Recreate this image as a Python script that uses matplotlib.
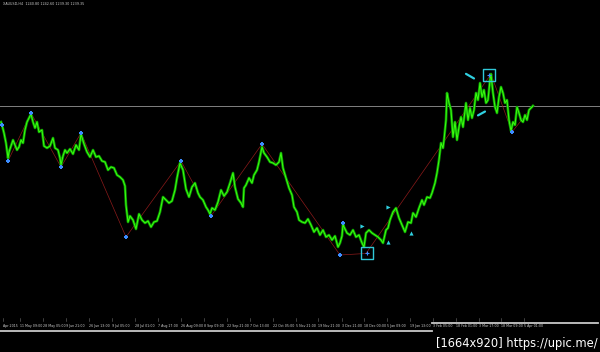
import matplotlib
matplotlib.use("Agg")
import matplotlib.pyplot as plt

# XAUUSD H4, one point every few bars (time index = chart column)
t = [1, 2, 4, 6, 8, 9, 11, 13, 15, 17, 19, 21, 23, 25, 27, 29, 31, 33, 35, 37,
     39, 42, 44, 47, 50, 53, 55, 58, 60, 61, 63, 65, 67, 70, 73, 76, 79, 81, 84, 87,
     90, 93, 96, 99, 102, 105, 108, 111, 114, 117, 120, 123, 125, 126, 128, 130, 133, 136, 139, 142,
     145, 148, 151, 154, 157, 160, 163, 166, 169, 172, 175, 177, 180, 183, 186, 189, 192, 195, 198, 200,
     203, 206, 208, 210, 212, 215, 218, 221, 224, 227, 230, 233, 235, 238, 241, 243, 244, 246, 249, 252,
     254, 257, 259, 262, 264, 267, 270, 273, 276, 279, 281, 283, 286, 289, 292, 294, 297, 299, 302, 305,
     308, 311, 314, 317, 320, 323, 326, 329, 332, 335, 338, 340, 342, 343, 344, 347, 350, 353, 356, 359,
     362, 364, 366, 369, 372, 375, 378, 381, 383, 386, 388, 390, 393, 396, 399, 402, 405, 408, 411, 413,
     416, 419, 422, 424, 427, 430, 432, 435, 437, 439, 441, 443, 444, 446, 447, 449, 451, 453, 455, 457,
     459, 461, 463, 466, 468, 470, 472, 474, 476, 478, 480, 482, 484, 486, 488, 490, 491, 493, 495, 497,
     499, 501, 503, 505, 507, 509, 511, 513, 515, 517, 519, 521, 523, 525, 527, 529, 531, 533]
price = [1218.4, 1214.5, 1204.1, 1191.1, 1171.6, 1179.4, 1187.2, 1195.0, 1188.5, 1182.0,
         1185.9, 1195.0, 1191.1, 1208.0, 1218.4, 1223.6, 1228.8, 1218.4, 1210.6, 1218.4,
         1205.4, 1208.0, 1187.2, 1184.6, 1187.2, 1197.6, 1184.6, 1182.0, 1171.6, 1162.5,
         1174.2, 1182.0, 1178.1, 1183.3, 1176.8, 1188.5, 1182.0, 1202.8, 1189.8, 1179.4,
         1172.9, 1182.0, 1172.9, 1174.2, 1167.7, 1166.4, 1156.0, 1159.9, 1158.6, 1149.5,
         1146.9, 1143.0, 1135.2, 1110.5, 1088.4, 1096.2, 1091.0, 1079.3, 1098.8, 1091.0,
         1087.1, 1089.7, 1081.9, 1088.4, 1089.7, 1101.4, 1120.9, 1117.0, 1113.1, 1115.7,
         1130.0, 1145.6, 1165.1, 1156.0, 1131.3, 1120.9, 1133.9, 1139.1, 1126.1, 1120.9,
         1117.0, 1107.9, 1104.0, 1098.8, 1106.6, 1104.0, 1114.4, 1130.0, 1122.2, 1127.4,
         1139.1, 1152.1, 1133.9, 1118.3, 1113.1, 1107.9, 1132.6, 1136.5, 1145.6, 1139.1,
         1149.5, 1156.0, 1166.4, 1185.9, 1178.1, 1172.9, 1166.4, 1165.1, 1162.5, 1166.4,
         1178.1, 1158.6, 1145.6, 1132.6, 1123.5, 1107.9, 1101.4, 1091.0, 1088.4, 1087.1,
         1092.3, 1084.5, 1075.4, 1080.6, 1071.5, 1078.0, 1068.9, 1071.5, 1065.0, 1070.2,
         1055.9, 1061.1, 1070.2, 1085.8, 1081.9, 1074.1, 1071.5, 1078.0, 1068.9, 1071.5,
         1061.1, 1055.9, 1074.1, 1078.0, 1074.1, 1071.5, 1068.9, 1065.0, 1061.1, 1078.0,
         1080.6, 1091.0, 1101.4, 1106.6, 1093.6, 1084.5, 1075.4, 1088.4, 1087.1, 1100.1,
         1094.9, 1106.6, 1117.0, 1110.5, 1120.9, 1119.6, 1126.1, 1139.1, 1152.1, 1169.0,
         1191.1, 1184.6, 1195.0, 1221.0, 1256.1, 1243.1, 1234.0, 1198.9, 1218.4, 1195.0,
         1211.9, 1224.9, 1211.9, 1243.1, 1221.0, 1236.6, 1223.6, 1234.0, 1256.1, 1247.0,
         1269.1, 1250.9, 1260.0, 1243.1, 1247.0, 1273.0, 1280.8, 1256.1, 1237.9, 1230.1,
         1250.9, 1263.9, 1256.1, 1243.1, 1247.0, 1221.0, 1206.7, 1218.4, 1214.5, 1237.9,
         1230.1, 1221.0, 1218.4, 1227.5, 1221.0, 1234.0, 1236.6, 1239.4]

bid = 1239.35
title = "XAUUSD,H4  1240.80 1242.60 1239.30 1239.35"

# zigzag pivots
zz_t = [8, 31, 61, 81, 126, 181, 211, 262, 340, 366, 491, 512, 533]
zz_p = [1167.7, 1230.1, 1159.9, 1204.1, 1068.9, 1167.7, 1096.2, 1189.8, 1045.5, 1047.5, 1280.8, 1205.4, 1239.4]

# fractal markers
fr_t = [2, 8, 31, 61, 81, 126, 181, 211, 262, 343, 340, 512]
fr_p = [1214.5, 1167.7, 1230.1, 1159.9, 1204.1, 1068.9, 1167.7, 1096.2, 1189.8, 1087.1, 1045.5, 1205.4]

# boxes (low / high)
box_t = [367, 489]
box_p = [1047.5, 1280.0]

# small trade arrows
arr_r_t = [388, 362]
arr_r_p = [1107.9, 1083.2]
arr_u_t = [388, 411]
arr_u_p = [1062.4, 1074.1]
sl_t = [(466, 474), (478, 485)]
sl_p = [(1281.0, 1275.0), (1227.0, 1232.0)]

tick_pos = [3, 20, 43, 66, 89, 112, 135, 158, 181, 204, 227, 250, 273, 296, 318, 342,
            364, 387, 410, 433, 456, 479, 501, 524]
tick_lab = ["Apr 2015", "11 May 09:00", "28 May 05:00", "9 Jun 21:00", "26 Jun 13:00",
            "9 Jul 05:00", "28 Jul 01:00", "7 Aug 17:00", "26 Aug 09:00", "8 Sep 09:00",
            "22 Sep 21:00", "7 Oct 13:00", "22 Oct 05:00", "5 Nov 21:00", "19 Nov 21:00",
            "3 Dec 21:00", "18 Dec 00:00", "5 Jan 09:00", "19 Jan 13:00", "3 Feb 05:00",
            "18 Feb 01:00", "3 Mar 17:00", "18 Mar 09:00", "5 Apr 01:00"]

fig = plt.figure(figsize=(6, 3.52), dpi=100, facecolor="black")
ax = fig.add_axes([0, 0, 1, 1])
ax.set_facecolor("black")
ax.set_xlim(0, 600)
ax.set_ylim(919.4, 1377)
ax.axis("off")

ax.axhline(bid, color="#808080", lw=0.7, zorder=1)
ax.plot(zz_t, zz_p, color="#8b1a1a", lw=0.5, zorder=2)

# price: dark body with a bright core, like packed H4 bars
ax.plot(t, price, color="#0a9a00", lw=1.9, zorder=3)
ax.plot(t, price, color="#3cff10", lw=0.7, zorder=4)

ax.scatter(fr_t, fr_p, marker="P", s=10, color="#3c8cff", lw=0, zorder=5)
ax.scatter(box_t, box_p, marker="s", s=75, facecolor="none", edgecolor="#30c8d8", lw=1.0, zorder=6)
ax.scatter(box_t, box_p, marker="+", s=8, color="#3c8cff", lw=0.8, zorder=6)
ax.scatter(arr_r_t, arr_r_p, marker=">", s=9, color="#30d0e0", lw=0, zorder=6)
ax.scatter(arr_u_t, arr_u_p, marker="^", s=9, color="#30d0e0", lw=0, zorder=6)
for xs, ys in zip(sl_t, sl_p):
    ax.plot(xs, ys, color="#30d0e0", lw=1.6, solid_capstyle="round", zorder=6)

# title and time axis
fig.text(3 / 600, 1 - 4 / 352, title, color="#c8c8c8", fontsize=2.4, va="center", ha="left")
xt = ax.get_xaxis_transform()
for p, lab in zip(tick_pos, tick_lab):
    ax.text(p, 1 - 326 / 352, lab, transform=xt, color="#d0d0d0", fontsize=2.3,
            ha="left", va="center")
    ax.plot([p, p], [1 - 321 / 352, 1 - 318 / 352], transform=xt, color="#707070", lw=0.4)
ax.plot([0, 0.72], [1 - 331 / 352] * 2, transform=ax.transAxes, color="#c8c8c8", lw=1.3)
ax.plot([0.72, 0.997], [1 - 323 / 352] * 2, transform=ax.transAxes, color="#c8c8c8", lw=1.3)

fig.text(598 / 600, 1 - 343 / 352, "[1664x920] https://upic.me/", color="white",
         fontsize=8.3, ha="right", va="center")

fig.savefig("out.png", dpi=100, facecolor="black")
